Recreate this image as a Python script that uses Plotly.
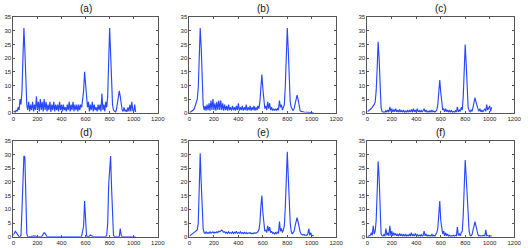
import plotly.graph_objects as go

FREQ = list(range(0, 1024, 8))

SERIES_A = [0.3,0.5,0.2,1,0.5,2,1,5,3,8,20,31,23,10,3,1,
            4,0.5,3,1,4,0.5,3,1,6,1,4,0.5,5,1,4,0.5,
            5,1,4,0.5,3,1,4,0.3,3,1,4,0.5,3,1,3,0.5,
            4,1,3,0.5,3,1,2,0.5,3,1,4,0.5,3,1,4,0.5,
            3,1,3,0.5,3,1,3,2,5,8,15,10,5,2,4,0.5,
            3,1,4,0.5,3,1,2,0.5,3,1,3,0.5,7,1,3,0.5,
            4,2,6,18,31,22,10,3,1,0.5,0.3,1,3,5,8,6,
            3,1,0.5,2,0.5,1,0.3,2,0.5,3,0.5,4,1,0.3,3,0.3]
SERIES_B = [0,0.2,0.3,0.5,1,1.5,2.5,4,5,9,20,31,24,10,3,1,
            2.5,0.8,3,1,3.5,0.8,4.5,1,5,1,3.5,0.8,4,1,4.5,1,
            4.5,1,3.5,0.8,3,1,2.5,0.8,3,1,2,0.8,2.5,1,2,0.8,
            2.5,1,3.5,0.8,2,1,2.5,0.8,2,1,3,0.8,2,1,2.5,0.8,
            2,1,2.5,0.8,2,1,2.5,1.5,4,9,14,9,4,1.5,2.5,1,
            4,1.5,3.5,1,2,0.8,1.5,0.8,1.5,0.8,1.5,1,4.5,2,3,1,
            2,3,10,22,31,23,12,4,2,1,0.8,1.5,3,5,6.5,5,
            2.5,1,0.5,0.3,0.4,0.3,0.3,0.2,0.3,0.2,0.2,0.1,0.2,0.1,0,0]
SERIES_C = [0.3,0.8,1,1.2,1.5,2,2.5,3,4,8,16,26,20,10,2,0.5,
            0.2,0.3,0.2,0.8,0.3,1,0.2,2.2,0.5,1.5,0.3,1.2,0.4,1.5,0.3,1,
            0.2,1.2,0.3,0.8,0.2,1,0.2,0.6,0.1,1,0.2,0.8,0.3,1.2,0.2,1.5,
            0.3,1,0.2,1.5,0.3,0.8,0.2,1,0.2,0.8,1.5,0.3,1,0.2,0.6,0.2,
            0.8,0.2,1,0.3,0.6,0.2,0.8,1,3,7,12,7.5,3,1,1.5,0.3,
            1.5,0.4,1,0.2,1,0.2,0.8,0.2,0.5,0.2,0.8,0.2,2.2,0.3,1,0.5,
            2,1,6,15,25,18,8,2,0.8,0.3,1,0.5,2,3.5,5.5,4,
            2,1.5,0.5,1.5,0.3,1,0.3,0.8,1.5,0.5,3,1,2,2.5,0.5,2]
SERIES_D = [0.5,1.5,2,1.6,1,0.4,0,0,0.5,10,23,29.5,29,15,1,0,
            0,0,0,0,0.1,0.3,0.3,0.3,0.1,0,0,0,0,0,0.3,1,
            1.5,1.2,0.5,0,0,0,0,0,0,0,0,0,0,0,0,0,
            0,0,0,0,0,0,0,0,0,0,0,0,0,0,0,0,
            0,0,0,0,0,0,0,0.3,2,4,13,4,0.5,0,0,0.2,
            0.6,0.3,0,0,0,0,0,0,0,0,0,0,0,0,0,0,
            0,0.5,5,19,24,29.5,18,4,0.5,0,0,0,0,0,0,3,
            0.5,0,0,0,0,0,0,0,0,0,0,0,0,0,0,0]
SERIES_E = [0.2,0.5,0.8,1,1.2,1.5,2,2,2.5,5,15,30.5,20,8,3,1.5,
            1.2,1.8,1.2,1.5,1.2,1.8,1.3,1.5,1.8,1.3,1.6,1.4,1.8,1.5,2,1.8,
            2.3,2.4,2,1.6,1.8,1.3,1.6,1.2,1.8,1.3,1.5,1.2,1.8,1.2,1.6,1.3,
            2,1.2,1.5,1.3,1.8,1.2,1.5,1.1,1.6,1.2,1.5,1.1,1.4,1.2,1.5,1.1,
            1.3,1.1,1.4,1.2,1.3,1.5,1.8,2.5,5,11,15,9,4,2,2.5,1.5,
            4,2,3.5,1.5,2,1.2,1.5,1,1.5,1,1.8,1.2,5.5,2,3,1.5,
            2.5,4,11,22,31,22,12,5,2,1,1.5,2,4,6,7,5.5,
            3,2,1,0.8,0.6,0.8,0.5,0.6,0.5,1,3,0.5,1.5,0.3,0.5,0.2]
SERIES_F = [0,0.2,0.3,0.5,1.5,0.5,4,1,2,6,16,27.5,22,8,1,0.3,
            0.2,0.8,0.2,3,0.5,1.5,0.3,4,0.5,2,0.3,1.5,0.5,1.2,0.3,1,
            0.2,1.2,0.3,1,0.2,0.8,0.2,1,0.2,0.6,0.3,1,0.2,1.5,0.3,0.8,
            0.2,1.2,0.3,0.8,0.2,0.6,0.2,0.8,0.2,0.5,2,0.3,1,0.2,0.6,0.2,
            0.5,0.2,1,0.2,0.5,0.2,1,1.5,3,8,13,6,2.5,1,2,0.3,
            1.5,0.3,1,0.2,0.5,0.2,0.3,0.2,0.5,0.2,0.5,0.3,3.5,0.5,1,0.3,
            1.5,2,8,20,28,22,14,6,2,0.5,0.3,0.8,2,4,5.5,4,
            2,0.8,0.3,0.5,0.2,0.3,0.2,0.5,0.2,2.5,0.3,0.5,0.2,0.3,0.2,0.3]

PANEL_TITLES = ["(a)", "(b)", "(c)", "(d)", "(e)", "(f)"]
X_TICKS = [0, 200, 400, 600, 800, 1000, 1200]
Y_TICKS = [0, 5, 10, 15, 20, 25, 30, 35]

W, H = 528, 248
col_px = [(11.5, 158.5), (190.7, 340.0), (371.7, 521.0)]
row_px = [(14.5, 112.5), (141.3, 239.5)]

series = [SERIES_A, SERIES_B, SERIES_C, SERIES_D, SERIES_E, SERIES_F]

fig = go.Figure()
layout = dict(width=W, height=H, margin=dict(l=0, r=0, t=0, b=0),
              paper_bgcolor="white", plot_bgcolor="white", showlegend=False,
              font=dict(family="Liberation Sans, Arial, sans-serif", size=6, color="#222"))
annotations = []
for i, ys in enumerate(series):
    r, c = divmod(i, 3)
    n = i + 1
    xa = "xaxis" if n == 1 else f"xaxis{n}"
    ya = "yaxis" if n == 1 else f"yaxis{n}"
    xref = "x" if n == 1 else f"x{n}"
    yref = "y" if n == 1 else f"y{n}"
    fig.add_trace(go.Scatter(x=FREQ, y=ys, mode="lines", xaxis=xref, yaxis=yref,
                             line=dict(color="rgb(40,72,255)", width=1.15)))
    x0, x1 = col_px[c]
    y0, y1 = row_px[r]
    common = dict(showline=True, linecolor="#555", linewidth=1, mirror="ticks",
                  ticks="inside", ticklen=2, tickcolor="#555", showgrid=False,
                  zeroline=False, tickfont=dict(size=6, color="#222"))
    layout[xa] = dict(domain=[x0 / W, x1 / W], range=[0, 1200], tickvals=X_TICKS,
                      anchor=yref, **common)
    layout[ya] = dict(domain=[1 - y1 / H, 1 - y0 / H], range=[0, 35], tickvals=Y_TICKS,
                      anchor=xref, **common)
    annotations.append(dict(text=PANEL_TITLES[i], x=(x0 + x1) / 2 / W,
                            y=1 - (y0 - 8.5) / H, xref="paper", yref="paper",
                            showarrow=False, font=dict(size=10, color="#111"),
                            xanchor="center", yanchor="middle"))
layout["annotations"] = annotations
fig.update_layout(**layout)
fig.write_html("out.html", config={"responsive": False, "displayModeBar": False},
               post_script="document.body.style.margin='0';document.body.style.overflow='hidden';")
